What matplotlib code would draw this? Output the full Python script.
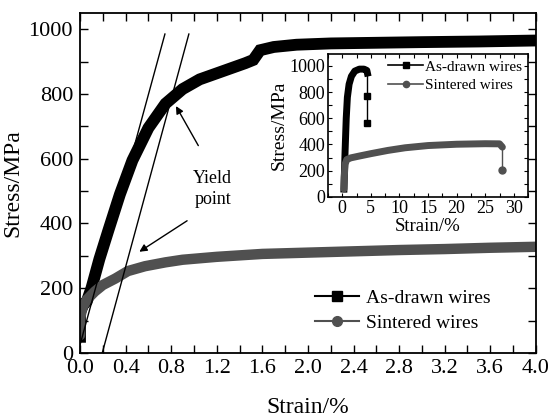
import matplotlib
matplotlib.use("Agg")
import matplotlib.pyplot as plt
from matplotlib.lines import Line2D
from matplotlib.ticker import MultipleLocator

plt.rcParams['font.family'] = ['Liberation Serif', 'DejaVu Serif']

# main plot: as-drawn wires (strain %, stress MPa)
drawn_strain = [0.0, 0.0, 0.03, 0.06, 0.10, 0.17, 0.25, 0.35, 0.46, 0.60, 0.75, 0.90,
                1.05, 1.25, 1.45, 1.52, 1.58, 1.70, 1.90, 2.20, 2.60, 3.00, 3.50, 4.00]
drawn_stress = [50, 125, 150, 160, 200, 290, 380, 490, 595, 695, 770, 815,
                845, 870, 895, 905, 935, 945, 952, 956, 958, 960, 962, 965]

# main plot: sintered wires
sint_strain = [0.0, 0.0, 0.02, 0.06, 0.13, 0.20, 0.31, 0.42, 0.57, 0.75, 0.90, 1.20,
               1.60, 2.00, 2.40, 2.80, 3.20, 3.60, 4.00]
sint_stress = [55, 105, 140, 165, 190, 210, 230, 253, 268, 280, 288, 297,
               306, 310, 314, 318, 321, 325, 328]

# elastic lines for 0.2% offset yield
line1_strain = [0.0, 0.745]
line1_stress = [25, 985]
line2_strain = [0.195, 0.955]
line2_stress = [0, 985]

# inset: full curves
in_drawn_strain = [0.3, 0.5, 0.7, 0.9, 1.2, 1.6, 2.2, 3.0, 3.8, 4.3, 4.4]
in_drawn_stress = [60, 350, 600, 760, 860, 920, 960, 975, 975, 965, 945]
in_drawn_drop_strain = [4.4, 4.4]
in_drawn_drop_stress = [770, 565]

in_sint_strain = [0.3, 0.35, 0.5, 0.8, 1.5, 3, 5, 8, 11, 15, 20, 25, 27.5, 28.0]
in_sint_stress = [60, 150, 250, 285, 298, 312, 330, 355, 375, 392, 402, 406, 405, 380]
in_sint_drop_strain = [28.0]
in_sint_drop_stress = [205]

grey = '#505050'

fig = plt.figure(figsize=(5.53, 4.19), dpi=100)
ax = fig.add_axes([0.1447, 0.1575, 0.8243, 0.8115])

ax.plot(drawn_strain, drawn_stress, color='black', lw=8.5, solid_joinstyle='miter')
ax.plot(sint_strain, sint_stress, color=grey, lw=7.5, solid_capstyle='round')
ax.plot(line1_strain, line1_stress, color='black', lw=1)
ax.plot(line2_strain, line2_stress, color='black', lw=1)

ax.annotate('', xy=(0.83, 770), xytext=(1.05, 633),
            arrowprops=dict(arrowstyle='-|>', color='black', lw=1, mutation_scale=11))
ax.annotate('', xy=(0.5, 308), xytext=(0.96, 413),
            arrowprops=dict(arrowstyle='-|>', color='black', lw=1, mutation_scale=11))
ax.text(1.165, 506, 'Yield\npoint', ha='center', va='center', fontsize=13, linespacing=1.3)

ax.set_xlim(0, 4)
ax.set_ylim(0, 1050)
ax.xaxis.set_major_locator(MultipleLocator(0.4))
ax.xaxis.set_minor_locator(MultipleLocator(0.2))
ax.yaxis.set_major_locator(MultipleLocator(200))
ax.yaxis.set_minor_locator(MultipleLocator(100))
ax.xaxis.set_major_formatter(plt.FormatStrFormatter('%.1f'))
ax.tick_params(which='both', direction='in', top=True, right=True, labelsize=16)
ax.tick_params(which='both', length=6, width=1)
ax.tick_params(axis='x', pad=4)
ax.tick_params(axis='y', pad=5)
for s in ax.spines.values():
    s.set_linewidth(1.3)
ax.set_xlabel('Strain/%', fontsize=17, labelpad=14)
ax.set_ylabel('Stress/MPa', fontsize=17, labelpad=4)

handles = [Line2D([], [], color='black', lw=1.5, marker='s', markersize=7),
           Line2D([], [], color=grey, lw=1.5, marker='o', markersize=7)]
ax.legend(handles, ['As-drawn wires', 'Sintered wires'], loc='center left',
          bbox_to_anchor=(0.515, 0.125), frameon=False, fontsize=14, borderpad=0,
          borderaxespad=0, handlelength=2.3, handletextpad=0.35, labelspacing=0.35)

# inset
axi = fig.add_axes([0.593, 0.530, 0.362, 0.341])
axi.plot(in_drawn_strain, in_drawn_stress, color='black', lw=5)
axi.plot([in_drawn_strain[-1]] + in_drawn_drop_strain, [in_drawn_stress[-1]] + in_drawn_drop_stress,
         color='black', lw=1)
axi.plot(in_drawn_drop_strain, in_drawn_drop_stress, 's', color='black', markersize=4.5)
axi.plot(in_sint_strain, in_sint_stress, color=grey, lw=5, solid_capstyle='round')
axi.plot([in_sint_strain[-1]] + in_sint_drop_strain, [in_sint_stress[-1]] + in_sint_drop_stress,
         color=grey, lw=1)
axi.plot(in_sint_drop_strain, in_sint_drop_stress, 'o', color=grey, markersize=5)

axi.set_xlim(-2.5, 32.5)
axi.set_ylim(0, 1090)
axi.xaxis.set_major_locator(MultipleLocator(5))
axi.xaxis.set_minor_locator(MultipleLocator(2.5))
axi.yaxis.set_major_locator(MultipleLocator(200))
axi.yaxis.set_minor_locator(MultipleLocator(100))
axi.tick_params(which='both', direction='in', top=True, right=True, labelsize=13, pad=2)
axi.tick_params(which='both', length=3, width=0.8)
for s in axi.spines.values():
    s.set_linewidth(1.2)
axi.set_xlabel('Strain/%', fontsize=13.5, labelpad=1)
axi.set_ylabel('Stress/MPa', fontsize=14, labelpad=1)

ihandles = [Line2D([], [], color='black', lw=1.2, marker='s', markersize=4.5),
            Line2D([], [], color=grey, lw=1.2, marker='o', markersize=4.5)]
axi.legend(ihandles, ['As-drawn wires', 'Sintered wires'], loc='center left',
           bbox_to_anchor=(0.30, 0.846), frameon=False, fontsize=11, borderpad=0,
           borderaxespad=0, handlelength=2.3, handletextpad=0.1, labelspacing=0.3)

fig.savefig('out.png', dpi=100)
